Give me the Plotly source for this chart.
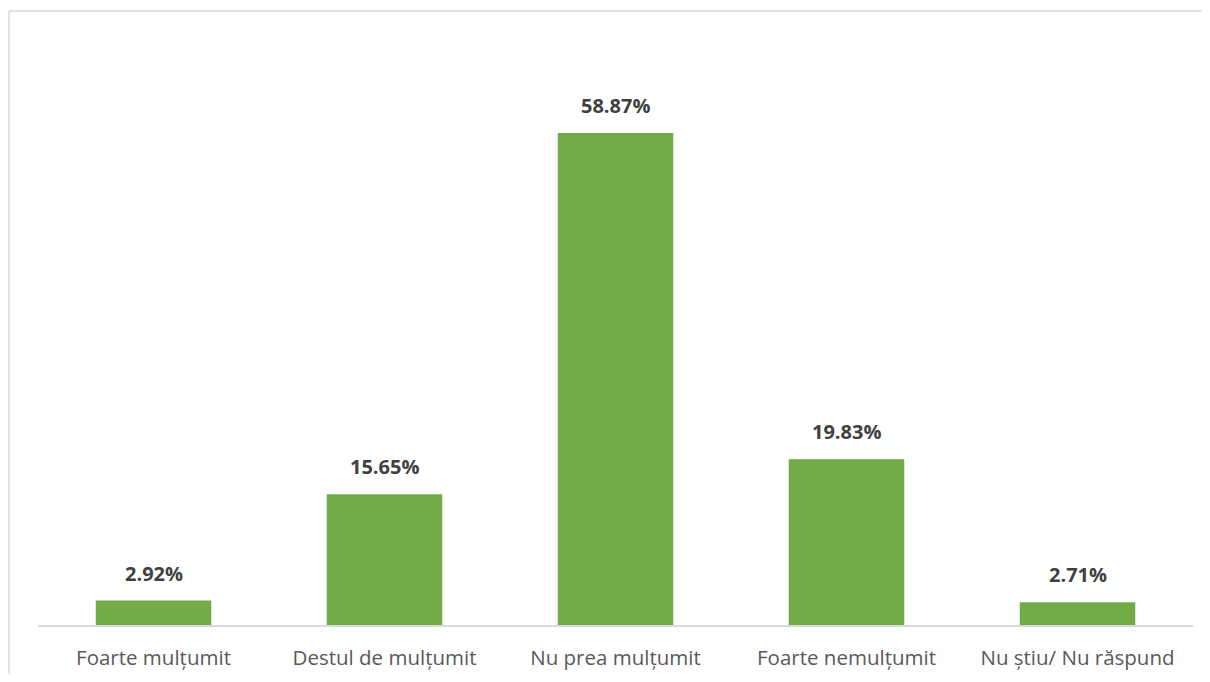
import plotly.graph_objects as go

categories = ["Foarte mulțumit", "Destul de mulțumit", "Nu prea mulțumit", "Foarte nemulțumit", "Nu știu/ Nu răspund"]
values = [2.92, 15.65, 58.87, 19.83, 2.71]
labels = [f"{v:.2f}%" for v in values]

fig = go.Figure()
fig.add_trace(go.Bar(
    x=categories, y=values,
    marker=dict(color="#70ab47", line=dict(width=0)),
    width=0.5,
))

for c, v, t in zip(categories, values, labels):
    fig.add_annotation(x=c, y=v, text=t, showarrow=False, yanchor="bottom",
                       yshift=12,
                       font=dict(family="Open Sans", size=20, color="#404040", weight="bold"))

border = dict(color="#d9d9d9", width=1.5)
fig.update_layout(
    width=1194, height=666,
    margin=dict(l=30, r=9, t=32, b=49, autoexpand=False),
    plot_bgcolor="white", paper_bgcolor="white",
    showlegend=False,
    xaxis=dict(showline=True, linecolor="#d9d9d9", linewidth=1.5,
               tickfont=dict(family="Open Sans", size=20.5, color="#595959"),
               ticks="", showgrid=False, ticklabelstandoff=14, automargin=False),
    yaxis=dict(range=[0, 70], visible=False, showgrid=False, automargin=False),
    shapes=[
        dict(type="line", xref="paper", yref="paper", x0=-0.0251, x1=1.1,
             y0=1.0496, y1=1.0496, line=border, layer="below"),
        dict(type="line", xref="paper", yref="paper", x0=-0.0251, x1=-0.0251,
             y0=-0.2, y1=1.0496, line=border, layer="below"),
    ],
)

fig.write_html("out.html")
